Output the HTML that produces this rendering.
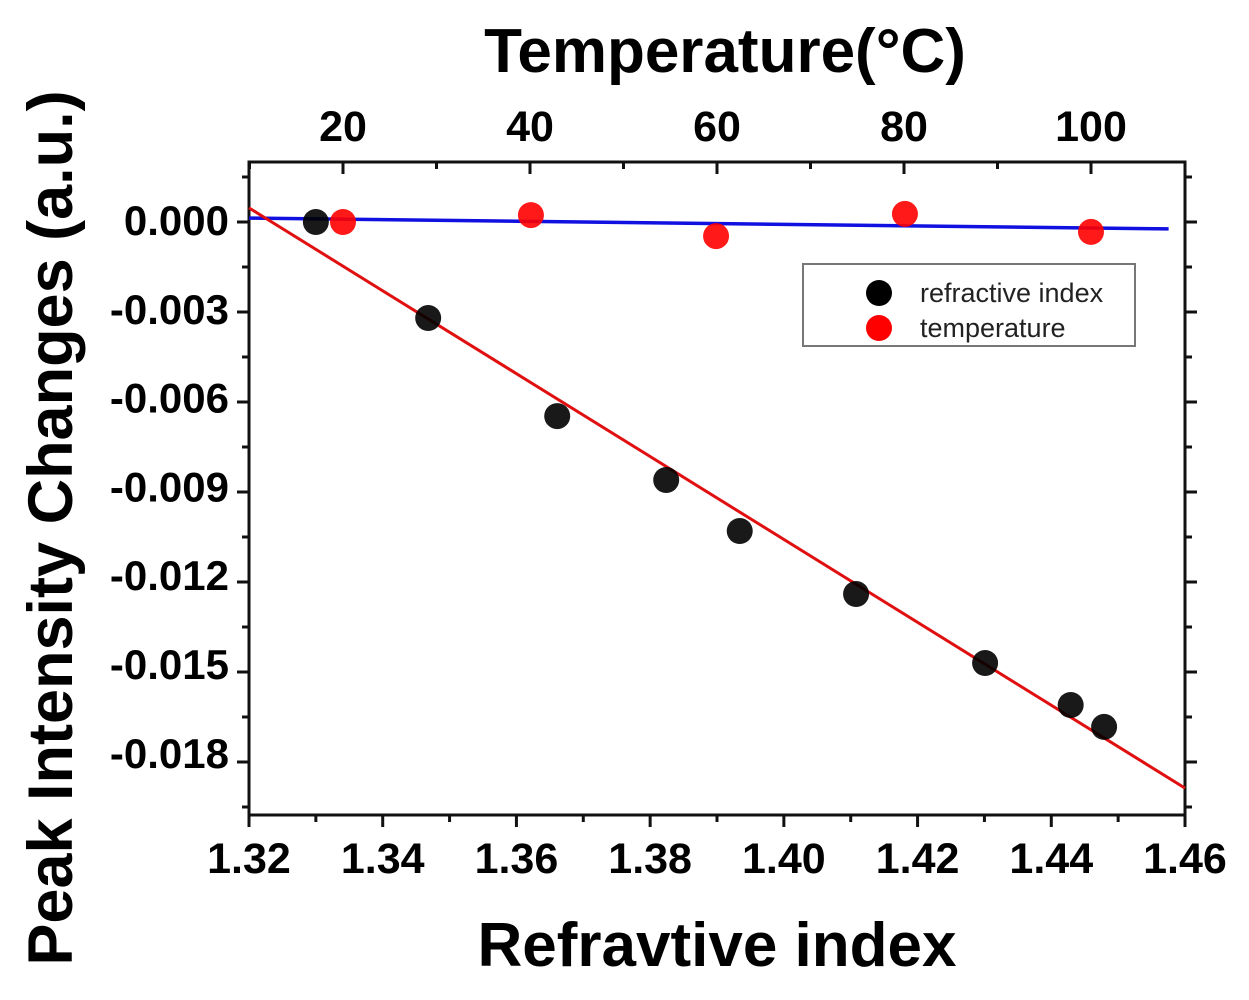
<!DOCTYPE html>
<html><head><meta charset="utf-8"><style>
html,body{margin:0;padding:0;background:#fff;}
svg{display:block;font-family:"Liberation Sans",Arial,sans-serif;}
</style></head><body>
<svg id="chart" width="1249" height="1000" viewBox="0 0 1249 1000" xmlns="http://www.w3.org/2000/svg">
<g id="axes"></g>
<g id="lines"></g>
<g id="marks"></g>
<g>
<rect x="803" y="264" width="332" height="82" fill="#fff" stroke="#777" stroke-width="2"/>
<circle cx="879" cy="293" r="13" fill="#000"/>
<text x="920" y="302" font-size="27" fill="#222">refractive index</text>
<circle cx="879" cy="328" r="13" fill="#f00"/>
<text x="920" y="337" font-size="27" fill="#222">temperature</text>
</g>
<text x="717" y="966" font-size="62" font-weight="bold" text-anchor="middle">Refravtive index</text>
<text x="725" y="72" font-size="62" font-weight="bold" text-anchor="middle">Temperature(°C)</text>
<text transform="translate(72,528) rotate(-90)" font-size="63" font-weight="bold" text-anchor="middle">Peak Intensity Changes (a.u.)</text>
</svg>
<script>
const riX = [1.3300, 1.3468, 1.3661, 1.3824, 1.3934, 1.4108, 1.4301, 1.4429, 1.4479];
const riY = [0.0000, -0.0032, -0.00647, -0.0086, -0.0103, -0.0124, -0.0147, -0.0161, -0.01683];
const tempX = [20, 40.1, 59.9, 80.1, 100];
const tempY = [0.0000, 0.00023, -0.00047, 0.00027, -0.00033];
const riFitX = [1.32, 1.46];
const riFitY = [0.00047, -0.01887];
const tempFitX = [9.95, 108.3];
const tempFitY = [0.00013, -0.00023];
const xTicks = [1.32, 1.34, 1.36, 1.38, 1.40, 1.42, 1.44, 1.46];
const xTickLabels = ["1.32","1.34","1.36","1.38","1.40","1.42","1.44","1.46"];
const yTicks = [0, -0.003, -0.006, -0.009, -0.012, -0.015, -0.018];
const yTickLabels = ["0.000","-0.003","-0.006","-0.009","-0.012","-0.015","-0.018"];
const tTicks = [20, 40, 60, 80, 100];
const tTickLabels = ["20","40","60","80","100"];

const L=249,R=1185,T=162,B=815;
const xs=v=>L+(v-1.32)*(R-L)/0.14;
const ys=v=>222-v*30000;
const ts=v=>343+(v-20)*9.35;
const NS="http://www.w3.org/2000/svg";
function mk(tag,parent,attrs){const e=document.createElementNS(NS,tag);for(const k in attrs)e.setAttribute(k,attrs[k]);parent.appendChild(e);return e;}
const ax=document.getElementById('axes'),ln=document.getElementById('lines'),mks=document.getElementById('marks');
let fr=mk('rect',ax,{x:L,y:T,width:R-L,height:B-T,fill:'none',stroke:'#111','stroke-width':3});


xTicks.forEach((v,i)=>{
 let t=mk('line',ax,{x1:xs(v),x2:xs(v),y1:B,y2:B+12,stroke:'#111','stroke-width':3});
 
 
 if(i<xTicks.length-1){let m=mk('line',ax,{x1:xs(v+0.01),x2:xs(v+0.01),y1:B,y2:B+7,stroke:'#111','stroke-width':3});
 
 }
 let tx=mk('text',ax,{x:xs(v),y:873,'font-size':43,'font-weight':'bold','text-anchor':'middle'});tx.textContent=xTickLabels[i];
 
 
});
yTicks.forEach((v,i)=>{
 [[L-12,L],[R,R+12]].forEach(p=>{let t=mk('line',ax,{x1:p[0],x2:p[1],y1:ys(v),y2:ys(v),stroke:'#111','stroke-width':3});
 
 });
 let tx=mk('text',ax,{x:229,y:ys(v)+13-i*1.2,'font-size':42,'font-weight':'bold','text-anchor':'end'});tx.textContent=yTickLabels[i];
 
 
});
[0.0015,-0.0015,-0.0045,-0.0075,-0.0105,-0.0135,-0.0165,-0.0195].forEach(v=>{
 [[L-7,L],[R,R+7]].forEach(p=>{let t=mk('line',ax,{x1:p[0],x2:p[1],y1:ys(v),y2:ys(v),stroke:'#111','stroke-width':3});
 
 });
});
tTicks.forEach((v,i)=>{
 let t=mk('line',ax,{x1:ts(v),x2:ts(v),y1:T,y2:T+12,stroke:'#111','stroke-width':3});
 
 
 [v-10].forEach(m=>{let e=mk('line',ax,{x1:ts(m),x2:ts(m),y1:T,y2:T+7,stroke:'#111','stroke-width':3});
 
 });
 let tx=mk('text',ax,{x:ts(v),y:141,'font-size':43,'font-weight':'bold','text-anchor':'middle'});tx.textContent=tTickLabels[i];
 
 
});
let bl=mk('line',ln,{x1:ts(tempFitX[0]),y1:ys(tempFitY[0]),x2:ts(tempFitX[1]),y2:ys(tempFitY[1]),stroke:'#1010e0','stroke-width':3.5});


let rl=mk('line',ln,{x1:xs(riFitX[0]),y1:ys(riFitY[0]),x2:xs(riFitX[1]),y2:ys(riFitY[1]),stroke:'#e01010','stroke-width':3});


riX.forEach((v,i)=>{let c=mk('circle',mks,{cx:xs(v),cy:ys(riY[i]),r:13,fill:'#000','fill-opacity':0.9});
 
 });
tempX.forEach((v,i)=>{let c=mk('circle',mks,{cx:ts(v),cy:ys(tempY[i]),r:13,fill:'#f00','fill-opacity':0.9});
 
 });
</script>
</body></html>
